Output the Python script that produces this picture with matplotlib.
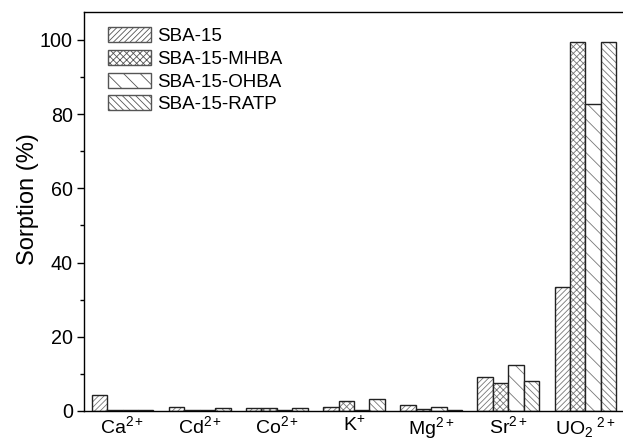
import numpy as np
import matplotlib
matplotlib.use("Agg")
import matplotlib.pyplot as plt
from matplotlib.ticker import MultipleLocator

plt.rcParams['font.family'] = ['Liberation Sans', 'DejaVu Sans']
plt.rcParams['mathtext.fontset'] = 'custom'
plt.rcParams['mathtext.rm'] = 'Liberation Sans'
plt.rcParams['mathtext.it'] = 'Liberation Sans'
plt.rcParams['hatch.linewidth'] = 0.6

# 离子
ions = ['Ca$^{2+}$', 'Cd$^{2+}$', 'Co$^{2+}$', 'K$^{+}$', 'Mg$^{2+}$', 'Sr$^{2+}$', 'UO$_{2}$$^{\\ 2+}$']
# 各材料的吸附率 (%)
sba15 = [4.3, 1.2, 0.8, 1.2, 1.6, 9.2, 33.3]
sba15_mhba = [0.3, 0.2, 0.9, 2.6, 0.5, 7.6, 99.5]
sba15_ohba = [0.2, 0.3, 0.4, 0.3, 1.0, 12.5, 82.8]
sba15_ratp = [0.4, 0.7, 0.8, 3.1, 0.2, 8.2, 99.4]

series = [sba15, sba15_mhba, sba15_ohba, sba15_ratp]
names = ['SBA-15', 'SBA-15-MHBA', 'SBA-15-OHBA', 'SBA-15-RATP']
hatches = ['//////', 'xxxxx', '\\\\', '\\\\\\\\\\']

fig = plt.figure(figsize=(6.23, 4.42), dpi=100)
ax = fig.add_axes([84/623, 31/442, 540/623, 399/442])

x = np.arange(len(ions))
w = 0.2
for i, (vals, name, h) in enumerate(zip(series, names, hatches)):
    pos = x + (i - 1.5) * w
    # 先画灰色阴影线，再画黑色边框
    ax.bar(pos, vals, w, color='white', edgecolor='#777777', hatch=h, linewidth=0, label=name)
    ax.bar(pos, vals, w, fill=False, edgecolor='#222222', linewidth=1.0)

ax.set_xlim(-0.5, 6.5)
ax.set_ylim(0, 107.5)
ax.set_xticks(x)
ax.set_xticklabels(ions, fontsize=14)
ax.tick_params(axis='x', length=0, pad=3)
ax.yaxis.set_major_locator(MultipleLocator(20))
ax.yaxis.set_minor_locator(MultipleLocator(10))
ax.tick_params(axis='y', which='major', length=5, width=1, labelsize=14.2, direction='out', pad=3)
ax.tick_params(axis='y', which='minor', length=3, width=1, direction='out')
ax.set_ylabel('Sorption (%)', fontsize=17, labelpad=6)
ax.yaxis.set_label_coords(-0.083, 0.53)
for s in ax.spines.values():
    s.set_linewidth(1.0)

leg = ax.legend(loc='upper left', frameon=False, fontsize=13.5, handlelength=2.3,
                handleheight=0.85, labelspacing=0.25, handletextpad=0.35,
                borderaxespad=0.0, bbox_to_anchor=(0.03, 0.98))
for p in leg.get_patches():
    p.set_edgecolor('#555555')
    p.set_linewidth(1.0)

fig.savefig('out.png', dpi=100)
